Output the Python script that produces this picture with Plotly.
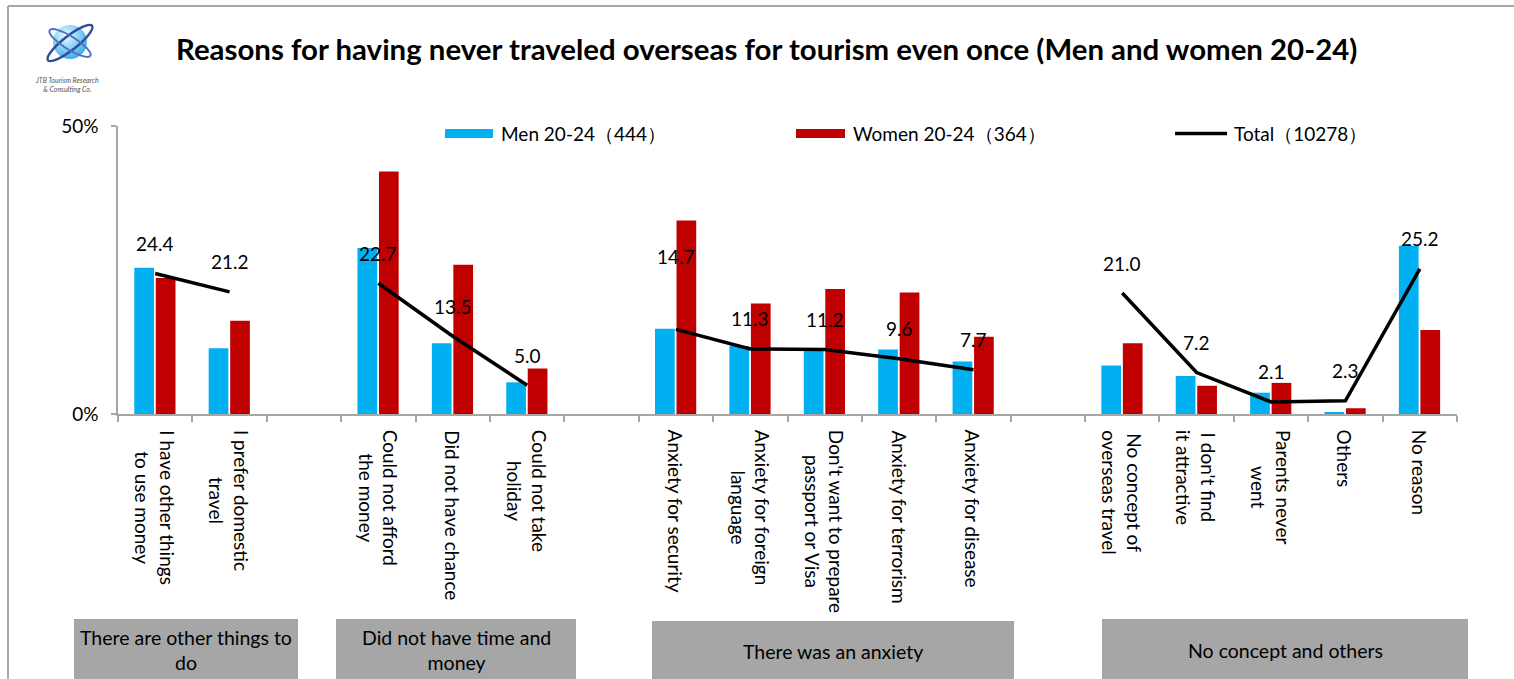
import base64
import plotly.graph_objects as go

# ---- data -------------------------------------------------------------
groups = [
    "There are other things to<br>do",
    "Did not have time and<br>money",
    "There was an anxiety",
    "No concept and others",
]
reasons = [
    "I have other things<br>to use money",
    "I prefer domestic<br>travel",
    "Could not afford<br>the money",
    "Did not have chance",
    "Could not take<br>holiday",
    "Anxiety for security",
    "Anxiety for foreign<br>language",
    "Don't want to prepare<br>passport or Visa",
    "Anxiety for terrorism",
    "Anxiety for disease",
    "No concept of<br>overseas travel",
    "I don't find<br>it attractive",
    "Parents never<br>went",
    "Others",
    "No reason",
]
reason_group = [0, 0, 1, 1, 1, 2, 2, 2, 2, 2, 3, 3, 3, 3, 3]
men = [25.4, 11.4, 28.8, 12.3, 5.5, 14.8, 11.8, 11.0, 11.2, 9.1, 8.4, 6.6, 3.7, 0.3, 29.2]
women = [23.6, 16.2, 42.1, 25.9, 7.9, 33.6, 19.2, 21.7, 21.1, 13.4, 12.3, 4.9, 5.4, 1.0, 14.6]
total = [24.4, 21.2, 22.7, 13.5, 5.0, 14.7, 11.3, 11.2, 9.6, 7.7, 21.0, 7.2, 2.1, 2.3, 25.2]
legend_names = ["Men 20-24（444）", "Women 20-24（364）", "Total（10278）"]
title = "Reasons for having never traveled overseas for tourism even once (Men and women 20-24)"

# ---- layout geometry ------------------------------------------------
W, H = 1514, 679
ML, MR, MT, MB = 118, 57, 126, 265
PW, PH = W - ML - MR, H - MT - MB
FONT = "Lato"
CYAN, RED, GREY = "#00B0F0", "#C00000", "#A6A6A6"

# value labels sit 30px above their point; the security label is lifted clear of the red bar
LABEL_SHIFT = 30
label_shift_override = {"Anxiety for security": 73}


def px(x):
    return (x - ML) / PW


def py(y):
    return (H - MB - y) / PH


# one empty slot between consecutive groups
pos = [i + g for i, g in enumerate(reason_group)]
n_slots = pos[-1] + 1

# total line broken between groups
line_x, line_y = [], []
for i, (p, v) in enumerate(zip(pos, total)):
    if i > 0 and reason_group[i] != reason_group[i - 1]:
        line_x.append(None)
        line_y.append(None)
    line_x.append(p)
    line_y.append(v)

fig = go.Figure()
fig.add_trace(go.Bar(x=pos, y=men, width=0.265, offset=-0.281,
                     marker=dict(color=CYAN, line=dict(width=0)), name=legend_names[0]))
fig.add_trace(go.Bar(x=pos, y=women, width=0.265, offset=0.008,
                     marker=dict(color=RED, line=dict(width=0)), name=legend_names[1]))
fig.add_trace(go.Scatter(x=line_x, y=line_y, mode="lines", connectgaps=False,
                         line=dict(color="black", width=3.5), name=legend_names[2]))

ann = []
# value labels of the total line
for p, v, r in zip(pos, total, reasons):
    shift = label_shift_override.get(r, LABEL_SHIFT)
    ann.append(dict(x=p, y=v, xref="x", yref="y", text=f"{v:.1f}", showarrow=False,
                    yshift=shift, font=dict(family=FONT, size=19, color="black")))
# rotated category labels
for p, r in zip(pos, reasons):
    ann.append(dict(x=p, y=py(428), xref="x", yref="paper", text=r, textangle=90,
                    showarrow=False, xanchor="center", yanchor="top", align="center",
                    font=dict(family=FONT, size=19, color="black")))

shapes = []
# group boxes under the axis
box_x = [(74, 298), (336, 576), (652, 1014), (1102, 1468)]
box_top = [619, 619, 621, 619]
for (x0, x1), t, g in zip(box_x, box_top, groups):
    shapes.append(dict(type="rect", xref="paper", yref="paper", x0=px(x0), x1=px(x1),
                       y0=py(H + 2), y1=py(t), fillcolor=GREY, line=dict(width=0), layer="above"))
    ann.append(dict(x=px((x0 + x1) / 2), y=py((t + H) / 2 + 1), xref="paper", yref="paper",
                    text=g, showarrow=False, xanchor="center", yanchor="middle", align="center",
                    font=dict(family=FONT, size=19.5, color="black")))

# legend drawn by hand: wide swatches
shapes.append(dict(type="rect", xref="paper", yref="paper", x0=px(445), x1=px(493),
                   y0=py(138), y1=py(129), fillcolor=CYAN, line=dict(width=0)))
shapes.append(dict(type="rect", xref="paper", yref="paper", x0=px(796), x1=px(845),
                   y0=py(138), y1=py(129), fillcolor=RED, line=dict(width=0)))
shapes.append(dict(type="line", xref="paper", yref="paper", x0=px(1175), x1=px(1227),
                   y0=py(133.5), y1=py(133.5), line=dict(color="black", width=3.5)))
for xx, name in zip([499, 851, 1232], legend_names):
    ann.append(dict(x=px(xx), y=py(133.5), xref="paper", yref="paper", text=name,
                    showarrow=False, xanchor="left", yanchor="middle",
                    font=dict(family=FONT, size=19, color="black")))

# title
ann.append(dict(x=px(766), y=py(49), xref="paper", yref="paper", text=f"<b>{title}</b>",
                showarrow=False, xanchor="center", yanchor="middle",
                font=dict(family=FONT, size=29.4, color="black")))

# outer frame
shapes.append(dict(type="line", xref="paper", yref="paper", x0=px(8), x1=px(W + 2),
                   y0=py(6), y1=py(6), line=dict(color=GREY, width=2)))
shapes.append(dict(type="line", xref="paper", yref="paper", x0=px(8), x1=px(8),
                   y0=py(6), y1=py(H + 2), line=dict(color=GREY, width=2)))

# company logo
logo_svg = """<svg xmlns='http://www.w3.org/2000/svg' width='60' height='50' viewBox='0 0 60 50'>
<defs><radialGradient id='g' cx='38%' cy='32%' r='70%'>
<stop offset='0' stop-color='#F2FBFF'/><stop offset='0.45' stop-color='#9BD8F8'/>
<stop offset='1' stop-color='#3FA9E6'/></radialGradient></defs>
<circle cx='30' cy='24' r='17' fill='url(#g)'/>
<ellipse cx='30' cy='25' rx='28' ry='7' transform='rotate(-38 30 25)' fill='none' stroke='#2C4D9E' stroke-width='2.4'/>
<ellipse cx='30' cy='25' rx='24' ry='6.5' transform='rotate(32 30 25)' fill='none' stroke='#4A73C4' stroke-width='2'/>
</svg>"""
logo_uri = "data:image/svg+xml;base64," + base64.b64encode(logo_svg.encode()).decode()
images = [dict(source=logo_uri, xref="paper", yref="paper", x=px(40), y=py(18),
               sizex=60 / PW, sizey=50 / PH, xanchor="left", yanchor="top",
               sizing="stretch", layer="above")]
ann.append(dict(x=px(67), y=py(84), xref="paper", yref="paper",
                text="<i>JTB Tourism Research<br>&amp; Consulting Co.</i>", showarrow=False,
                xanchor="center", yanchor="middle", align="center",
                font=dict(family=FONT, size=7, color="#555555")))

fig.update_layout(
    width=W, height=H,
    margin=dict(l=ML, r=MR, t=MT, b=MB),
    paper_bgcolor="white", plot_bgcolor="white",
    showlegend=False, barmode="overlay",
    font=dict(family=FONT, color="black"),
    xaxis=dict(range=[-0.5, n_slots - 0.5], tickvals=[i - 0.5 for i in range(n_slots + 1)],
               showticklabels=False, ticks="outside", ticklen=6, tickcolor=GREY, tickwidth=1.5,
               showline=True, linecolor=GREY, linewidth=1.5, showgrid=False, zeroline=False,
               fixedrange=True),
    yaxis=dict(range=[0, 50], tickvals=[0, 50], ticktext=["0%", "50%"], ticks="outside",
               ticklen=5, tickcolor=GREY, tickwidth=1.5, showline=True, linecolor=GREY,
               linewidth=1.5, showgrid=False, zeroline=False, ticklabelstandoff=9,
               tickfont=dict(family=FONT, size=19, color="black"), fixedrange=True),
    annotations=ann, shapes=shapes, images=images,
)

fig.write_html("out.html")
